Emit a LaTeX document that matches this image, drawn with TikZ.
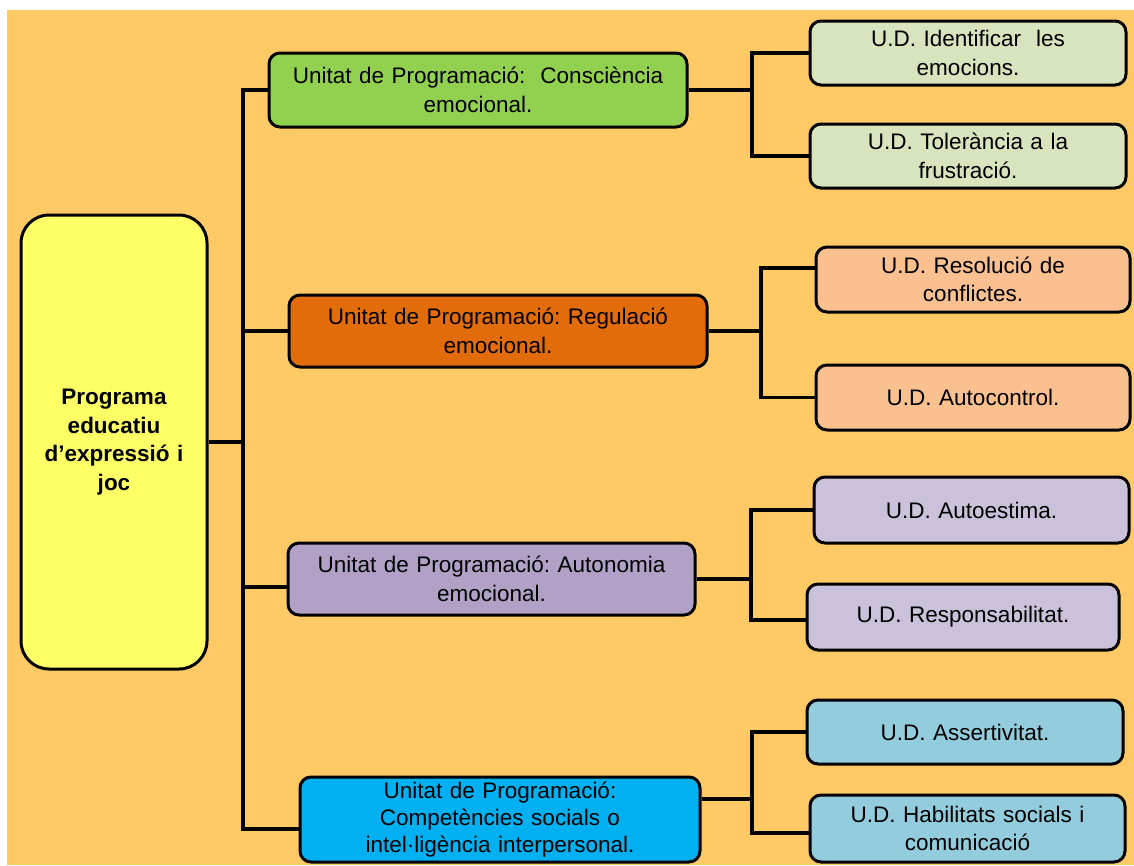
\documentclass[tikz,border=0pt]{standalone}
\usepackage{fontspec}
\setmainfont{Liberation Sans}
\definecolor{bgc}{HTML}{FFCA66}
\definecolor{rootc}{HTML}{FFFF66}
\definecolor{upa}{HTML}{92D050}
\definecolor{upb}{HTML}{E36C0A}
\definecolor{upc}{HTML}{B2A1C7}
\definecolor{upd}{HTML}{00B0F0}
\definecolor{uda}{HTML}{D7E4BD}
\definecolor{udb}{HTML}{FAC090}
\definecolor{udc}{HTML}{CCC1DA}
\definecolor{udd}{HTML}{93CDDD}
\begin{document}
\frenchspacing
\begin{tikzpicture}[x=1pt,y=-1pt,
  conn/.style={line width=3.3pt, draw=black},
  bx/.style n args={3}{draw=black, line width=3pt, rounded corners=11pt,
    fill=#1, minimum width=#2pt, text width=#2pt, minimum height=#3pt,
    inner sep=0pt, align=center, text=black,
    font=\fontsize{22.5}{28.5}\selectfont\frenchspacing}]
\fill[white] (0,0) rectangle (1134,865);
\fill[bgc] (7,10) rectangle (1134,865);
\useasboundingbox (0,0) rectangle (1134,865);

% root
\node[bx={rootc}{186}{454}, rounded corners=28pt,
      font=\fontsize{22.5}{28.5}\selectfont\bfseries\frenchspacing] (root) at (114,442)
  {Programa\\educatiu\\d’expressió i\\joc};

% programming units
\node[bx={upa}{418}{74}] (up1) at (478,90)
  {Unitat de Programació:~ Consciència\\emocional.};
\node[bx={upb}{418}{72}] (up2) at (498,331)
  {Unitat de Programació: Regulació\\emocional.};
\node[bx={upc}{407}{72}] (up3) at (491.5,579)
  {Unitat de Programació: Autonomia\\emocional.};
\node[bx={upd}{400}{85}, font=\fontsize{22.5}{27}\selectfont\frenchspacing] (up4) at (500,819.5)
  {Unitat de Programació:\\Competències socials o\\intel·ligència interpersonal.};

% didactic units
\node[bx={uda}{316}{64}] (ud1) at (968,53) {U.D. Identificar~ les\\emocions.};
\node[bx={uda}{316}{64}] (ud2) at (968,156) {U.D. Tolerància a la\\frustració.};
\node[bx={udb}{314}{65}] (ud3) at (973,279.5) {U.D. Resolució de\\conflictes.};
\node[bx={udb}{314}{65}] (ud4) at (973,397.5) {U.D. Autocontrol.};
\node[bx={udc}{315}{66}] (ud5) at (971.5,510) {U.D. Autoestima.};
\node[bx={udc}{312}{66}] (ud6) at (963,617) {U.D. Responsabilitat.};
\node[bx={udd}{316}{64}] (ud7) at (965,732) {U.D. Assertivitat.};
\node[bx={udd}{315}{67}] (ud8) at (967.5,828.5) {U.D. Habilitats socials i\\comunicació};

% connector helper coordinates
\coordinate (tx) at (243,0);
\coordinate (b1) at (752,0);
\coordinate (b2) at (761,0);
\coordinate (b3) at (751,0);
\coordinate (b4) at (752,0);
\coordinate (p4) at ([yshift=-9.5pt]up4.west);
\coordinate (p3) at ([yshift=-8pt]up3.west);
\coordinate (q3) at ([yshift=11.5pt]ud3.west);
\coordinate (q6) at ([yshift=-3pt]ud6.west);
\coordinate (r4) at ([yshift=20.5pt]up4.east);
\coordinate (q8) at ([yshift=-4.5pt]ud8.west);

% trunk
\draw[conn] (up1.west) -| (p4 -| tx) -- (p4);
\draw[conn] (up2.west) -- (up2.west -| tx);
\draw[conn] (p3) -- (p3 -| tx);
\draw[conn] (root.east) -- (root.east -| tx);

% group 1
\draw[conn] (up1.east) -- (up1.east -| b1);
\draw[conn] (ud1.west) -| (ud2.west -| b1) -- (ud2.west);
% group 2
\draw[conn] (up2.east) -- (up2.east -| b2);
\draw[conn] (q3) -| (ud4.west -| b2) -- (ud4.west);
% group 3
\draw[conn] (up3.east) -- (up3.east -| b3);
\draw[conn] (ud5.west) -| (q6 -| b3) -- (q6);
% group 4
\draw[conn] (r4) -- (r4 -| b4);
\draw[conn] (ud7.west) -| (q8 -| b4) -- (q8);
\end{tikzpicture}
\end{document}
